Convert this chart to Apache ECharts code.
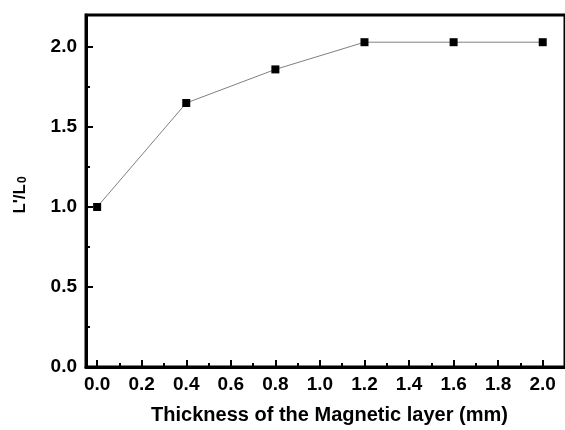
<!DOCTYPE html>
<html>
<head>
<meta charset="utf-8">
<script src="https://cdn.jsdelivr.net/npm/echarts@6/dist/echarts.min.js"></script>
<style>
  html, body { margin: 0; padding: 0; background: #ffffff; }
  #chart { width: 565px; height: 430px; }
</style>
</head>
<body>
<div id="chart"></div>
<script>
// Relative value L'/L0 against magnetic layer thickness
const thickness = [0.0, 0.4, 0.8, 1.2, 1.6, 2.0];
const ratio = [1.00, 1.65, 1.86, 2.03, 2.03, 2.03];

const xMajorTicks = [0.0, 0.2, 0.4, 0.6, 0.8, 1.0, 1.2, 1.4, 1.6, 1.8, 2.0];
const xMinorTicks = [0.1, 0.3, 0.5, 0.7, 0.9, 1.1, 1.3, 1.5, 1.7, 1.9];
const yMajorTicks = [0.0, 0.5, 1.0, 1.5, 2.0];
const yMinorTicks = [0.25, 0.75, 1.25, 1.75];

const xTitle = 'Thickness of the Magnetic layer (mm)';
const yTitleMain = "L'/L";
const yTitleSub = '0';

const font = '"Liberation Sans", Arial, sans-serif';
const chart = echarts.init(document.getElementById('chart'), null, { renderer: 'canvas' });

const xRange = { min: -0.05, max: 2.1 };
const yRange = { min: 0, max: 2.2 };

chart.setOption({
  animation: false,
  backgroundColor: '#ffffff',
  grid: {
    left: 86, top: 15, width: 483, height: 354,
    show: true, borderColor: '#000', borderWidth: 3, backgroundColor: 'transparent'
  },
  // rotated y-axis title with subscript
  graphic: [{
    type: 'text',
    x: 19, y: 195,
    rotation: Math.PI / 2,
    style: {
      text: '{n|' + yTitleMain + '}{s|' + yTitleSub + '}',
      align: 'center', verticalAlign: 'middle',
      rich: {
        n: { fill: '#000', fontFamily: font, fontWeight: 'bold', fontSize: 17, lineHeight: 20, verticalAlign: 'bottom' },
        s: { fill: '#000', fontFamily: font, fontWeight: 'bold', fontSize: 12, lineHeight: 12, verticalAlign: 'bottom', padding: [10, 0, 0, 1] }
      }
    }
  }],
  xAxis: [
    {
      type: 'value', ...xRange, position: 'bottom',
      axisLine: { onZero: false, lineStyle: { color: '#000', width: 3 } },
      axisTick: { inside: true, length: 7, lineStyle: { color: '#000', width: 2 }, customValues: xMajorTicks },
      axisLabel: {
        customValues: xMajorTicks, margin: 8,
        color: '#000', fontFamily: font, fontWeight: 'bold', fontSize: 19,
        formatter: v => v.toFixed(1)
      },
      splitLine: { show: false },
      name: xTitle,
      nameLocation: 'middle', nameGap: 38,
      nameTextStyle: { color: '#000', fontFamily: font, fontWeight: 'bold', fontSize: 20, padding: [0, 0, 0, 8] }
    },
    {
      type: 'value', ...xRange, position: 'bottom',
      axisLine: { show: false, onZero: false },
      axisTick: { inside: true, length: 4, lineStyle: { color: '#000', width: 2 }, customValues: xMinorTicks },
      axisLabel: { show: false },
      splitLine: { show: false }
    }
  ],
  yAxis: [
    {
      type: 'value', ...yRange, position: 'left',
      axisLine: { show: true, onZero: false, lineStyle: { color: '#000', width: 3 } },
      axisTick: { show: true, inside: true, length: 7, lineStyle: { color: '#000', width: 2 }, customValues: yMajorTicks },
      axisLabel: {
        customValues: yMajorTicks, margin: 9,
        color: '#000', fontFamily: font, fontWeight: 'bold', fontSize: 19,
        formatter: v => v.toFixed(1)
      },
      splitLine: { show: false }
    },
    {
      type: 'value', ...yRange, position: 'left',
      axisLine: { show: false, onZero: false },
      axisTick: { show: true, inside: true, length: 4, lineStyle: { color: '#000', width: 2 }, customValues: yMinorTicks },
      axisLabel: { show: false },
      splitLine: { show: false }
    }
  ],
  series: [{
    type: 'line',
    data: thickness.map((t, i) => [t, ratio[i]]),
    symbol: 'rect', symbolSize: 8,
    itemStyle: { color: '#000' },
    lineStyle: { color: '#808080', width: 1 }
  }]
});
</script>
</body>
</html>
